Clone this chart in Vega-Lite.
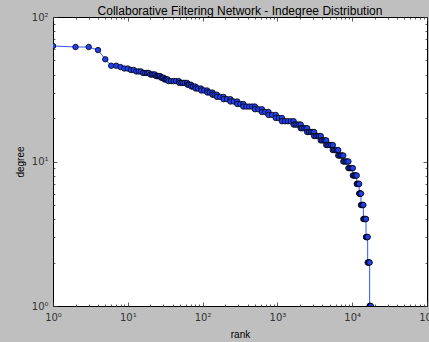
{
  "$schema": "https://vega.github.io/schema/vega-lite/v6.json",
  "autosize": {"type": "none"},
  "padding": {"left": 53, "top": 17, "right": 2, "bottom": 36},
  "width": 374,
  "height": 289,
  "background": "#bfbfbf",
  "config": {
    "view": {"fill": "white", "stroke": "black", "strokeWidth": 1},
    "axis": {
      "domain": false,
      "grid": false,
      "tickColor": "#333333",
      "tickWidth": 0.8,
      "labelFont": "DejaVu Sans",
      "labelFontSize": 10,
      "labelColor": "#333333",
      "titleFont": "Liberation Sans",
      "titleFontSize": 10,
      "titleFontWeight": "normal",
      "titleColor": "black"
    }
  },
  "title": {
    "text": "Collaborative Filtering Network - Indegree Distribution",
    "font": "Liberation Sans",
    "fontSize": 12,
    "fontWeight": "normal",
    "color": "black",
    "offset": -6
  },
  "data": {
    "values": [
      {"rank": 1, "degree": 63}, {"rank": 2, "degree": 62}, {"rank": 3, "degree": 62}, {"rank": 4, "degree": 59},
      {"rank": 5, "degree": 51}, {"rank": 6, "degree": 46}, {"rank": 7, "degree": 46}, {"rank": 8, "degree": 45},
      {"rank": 9, "degree": 44}, {"rank": 10, "degree": 44}, {"rank": 11, "degree": 43}, {"rank": 12, "degree": 43},
      {"rank": 13, "degree": 42}, {"rank": 14, "degree": 42}, {"rank": 15, "degree": 42},
      {"rank": 16, "degree": 41}, {"rank": 17, "degree": 41}, {"rank": 18, "degree": 41}, {"rank": 19, "degree": 41},
      {"rank": 20, "degree": 40}, {"rank": 21, "degree": 40}, {"rank": 22, "degree": 40}, {"rank": 23, "degree": 40},
      {"rank": 24, "degree": 39}, {"rank": 25, "degree": 39}, {"rank": 26, "degree": 39}, {"rank": 27, "degree": 39},
      {"rank": 28, "degree": 38}, {"rank": 29, "degree": 38}, {"rank": 30, "degree": 38},
      {"rank": 31, "degree": 37}, {"rank": 32, "degree": 37}, {"rank": 33, "degree": 37}, {"rank": 34, "degree": 37},
      {"rank": 35, "degree": 36}, {"rank": 38, "degree": 36}, {"rank": 41, "degree": 36}, {"rank": 44, "degree": 36}, {"rank": 48, "degree": 36},
      {"rank": 49, "degree": 35}, {"rank": 52, "degree": 35}, {"rank": 55, "degree": 35}, {"rank": 58, "degree": 35}, {"rank": 62, "degree": 35},
      {"rank": 63, "degree": 34}, {"rank": 66, "degree": 34}, {"rank": 70, "degree": 34},
      {"rank": 71, "degree": 33}, {"rank": 75, "degree": 33}, {"rank": 80, "degree": 33},
      {"rank": 81, "degree": 32}, {"rank": 87, "degree": 32}, {"rank": 95, "degree": 32},
      {"rank": 96, "degree": 31}, {"rank": 105, "degree": 31}, {"rank": 115, "degree": 31},
      {"rank": 116, "degree": 30}, {"rank": 125, "degree": 30}, {"rank": 135, "degree": 30},
      {"rank": 136, "degree": 29}, {"rank": 145, "degree": 29}, {"rank": 155, "degree": 29},
      {"rank": 156, "degree": 28}, {"rank": 172, "degree": 28}, {"rank": 190, "degree": 28},
      {"rank": 191, "degree": 27}, {"rank": 212, "degree": 27}, {"rank": 235, "degree": 27},
      {"rank": 236, "degree": 26}, {"rank": 262, "degree": 26}, {"rank": 290, "degree": 26},
      {"rank": 291, "degree": 25}, {"rank": 320, "degree": 25}, {"rank": 350, "degree": 25},
      {"rank": 351, "degree": 24}, {"rank": 385, "degree": 24}, {"rank": 420, "degree": 24}, {"rank": 460, "degree": 24}, {"rank": 500, "degree": 24},
      {"rank": 501, "degree": 23}, {"rank": 557, "degree": 23}, {"rank": 620, "degree": 23},
      {"rank": 621, "degree": 22}, {"rank": 690, "degree": 22}, {"rank": 760, "degree": 22},
      {"rank": 761, "degree": 21}, {"rank": 850, "degree": 21}, {"rank": 950, "degree": 21},
      {"rank": 951, "degree": 20}, {"rank": 1045, "degree": 20}, {"rank": 1150, "degree": 20},
      {"rank": 1151, "degree": 19}, {"rank": 1260, "degree": 19}, {"rank": 1380, "degree": 19}, {"rank": 1510, "degree": 19}, {"rank": 1650, "degree": 19},
      {"rank": 1651, "degree": 18}, {"rank": 1750, "degree": 18}, {"rank": 1850, "degree": 18}, {"rank": 1950, "degree": 18}, {"rank": 2050, "degree": 18},
      {"rank": 2051, "degree": 17}, {"rank": 2150, "degree": 17}, {"rank": 2270, "degree": 17}, {"rank": 2380, "degree": 17}, {"rank": 2500, "degree": 17},
      {"rank": 2501, "degree": 16}, {"rank": 2650, "degree": 16}, {"rank": 2800, "degree": 16}, {"rank": 2950, "degree": 16}, {"rank": 3100, "degree": 16},
      {"rank": 3101, "degree": 15}, {"rank": 3280, "degree": 15}, {"rank": 3450, "degree": 15}, {"rank": 3620, "degree": 15}, {"rank": 3800, "degree": 15},
      {"rank": 3801, "degree": 14}, {"rank": 3970, "degree": 14}, {"rank": 4150, "degree": 14}, {"rank": 4320, "degree": 14}, {"rank": 4500, "degree": 14},
      {"rank": 4501, "degree": 13}, {"rank": 4730, "degree": 13}, {"rank": 4980, "degree": 13}, {"rank": 5230, "degree": 13}, {"rank": 5500, "degree": 13},
      {"rank": 5501, "degree": 12}, {"rank": 5740, "degree": 12}, {"rank": 6000, "degree": 12}, {"rank": 6250, "degree": 12}, {"rank": 6500, "degree": 12},
      {"rank": 6501, "degree": 11}, {"rank": 6770, "degree": 11}, {"rank": 7050, "degree": 11}, {"rank": 7320, "degree": 11}, {"rank": 7600, "degree": 11},
      {"rank": 7601, "degree": 10}, {"rank": 7900, "degree": 10}, {"rank": 8220, "degree": 10}, {"rank": 8550, "degree": 10}, {"rank": 8900, "degree": 10},
      {"rank": 8901, "degree": 9}, {"rank": 9200, "degree": 9}, {"rank": 9530, "degree": 9}, {"rank": 9860, "degree": 9}, {"rank": 10200, "degree": 9},
      {"rank": 10201, "degree": 8}, {"rank": 10520, "degree": 8}, {"rank": 10840, "degree": 8}, {"rank": 11170, "degree": 8}, {"rank": 11500, "degree": 8},
      {"rank": 11501, "degree": 7}, {"rank": 11720, "degree": 7}, {"rank": 11950, "degree": 7}, {"rank": 12170, "degree": 7}, {"rank": 12400, "degree": 7},
      {"rank": 12401, "degree": 6}, {"rank": 12570, "degree": 6}, {"rank": 12750, "degree": 6}, {"rank": 12920, "degree": 6}, {"rank": 13100, "degree": 6},
      {"rank": 13101, "degree": 5}, {"rank": 13350, "degree": 5}, {"rank": 13600, "degree": 5}, {"rank": 13850, "degree": 5}, {"rank": 14100, "degree": 5},
      {"rank": 14101, "degree": 4}, {"rank": 14400, "degree": 4}, {"rank": 14700, "degree": 4}, {"rank": 15000, "degree": 4}, {"rank": 15300, "degree": 4},
      {"rank": 15301, "degree": 3}, {"rank": 15500, "degree": 3}, {"rank": 15700, "degree": 3}, {"rank": 15900, "degree": 3}, {"rank": 16100, "degree": 3},
      {"rank": 16101, "degree": 2}, {"rank": 16350, "degree": 2}, {"rank": 16600, "degree": 2}, {"rank": 16850, "degree": 2}, {"rank": 17100, "degree": 2},
      {"rank": 17101, "degree": 1}, {"rank": 17250, "degree": 1}, {"rank": 17400, "degree": 1}, {"rank": 17550, "degree": 1}, {"rank": 17700, "degree": 1}
    ]
  },
  "layer": [
    {
      "mark": {"type": "line", "color": "#3355ff", "strokeWidth": 1, "clip": true},
      "encoding": {
        "x": {
          "field": "rank", "type": "quantitative", "title": "rank",
          "scale": {"type": "log", "domain": [1, 100000], "nice": false},
          "axis": {
            "orient": "bottom",
            "values": [1,2,3,4,5,6,7,8,9,10,20,30,40,50,60,70,80,90,100,200,300,400,500,600,700,800,900,1000,2000,3000,4000,5000,6000,7000,8000,9000,10000,20000,30000,40000,50000,60000,70000,80000,90000,100000],
            "tickSize": {"condition": {"test": "abs(log(datum.value)/LN10 - round(log(datum.value)/LN10)) < 0.001", "value": -4}, "value": -2},
            "labelExpr": "abs(log(datum.value)/LN10 - round(log(datum.value)/LN10)) < 0.001 ? '10' + ['⁰','¹','²','³','⁴','⁵'][round(log(datum.value)/LN10)] : ''",
            "labelPadding": 10,
            "labelOverlap": false,
            "labelFlush": false,
            "titlePadding": 5
          }
        },
        "y": {
          "field": "degree", "type": "quantitative", "title": "degree",
          "scale": {"type": "log", "domain": [1, 100], "nice": false},
          "axis": {
            "orient": "left",
            "values": [1,2,3,4,5,6,7,8,9,10,20,30,40,50,60,70,80,90,100],
            "tickSize": {"condition": {"test": "abs(log(datum.value)/LN10 - round(log(datum.value)/LN10)) < 0.001", "value": -4}, "value": -2},
            "labelExpr": "abs(log(datum.value)/LN10 - round(log(datum.value)/LN10)) < 0.001 ? '10' + ['⁰','¹','²','³','⁴','⁵'][round(log(datum.value)/LN10)] : ''",
            "labelPadding": 9,
            "labelOverlap": false,
            "labelFlush": false,
            "titlePadding": 6
          }
        },
        "order": {"field": "rank", "type": "quantitative"}
      }
    },
    {
      "mark": {"type": "point", "filled": true, "fill": "#2040f0", "stroke": "black", "strokeWidth": 0.8, "size": 30, "opacity": 1, "clip": true},
      "encoding": {
        "x": {
          "field": "rank", "type": "quantitative",
          "scale": {"type": "log", "domain": [1, 100000], "nice": false},
          "axis": {
            "orient": "top", "title": null, "labels": false,
            "values": [1,2,3,4,5,6,7,8,9,10,20,30,40,50,60,70,80,90,100,200,300,400,500,600,700,800,900,1000,2000,3000,4000,5000,6000,7000,8000,9000,10000,20000,30000,40000,50000,60000,70000,80000,90000,100000],
            "tickSize": {"condition": {"test": "abs(log(datum.value)/LN10 - round(log(datum.value)/LN10)) < 0.001", "value": -4}, "value": -2}
          }
        },
        "y": {
          "field": "degree", "type": "quantitative",
          "scale": {"type": "log", "domain": [1, 100], "nice": false},
          "axis": {
            "orient": "right", "title": null, "labels": false,
            "values": [1,2,3,4,5,6,7,8,9,10,20,30,40,50,60,70,80,90,100],
            "tickSize": {"condition": {"test": "abs(log(datum.value)/LN10 - round(log(datum.value)/LN10)) < 0.001", "value": -4}, "value": -2}
          }
        }
      }
    }
  ],
  "resolve": {"axis": {"x": "independent", "y": "independent"}}
}
